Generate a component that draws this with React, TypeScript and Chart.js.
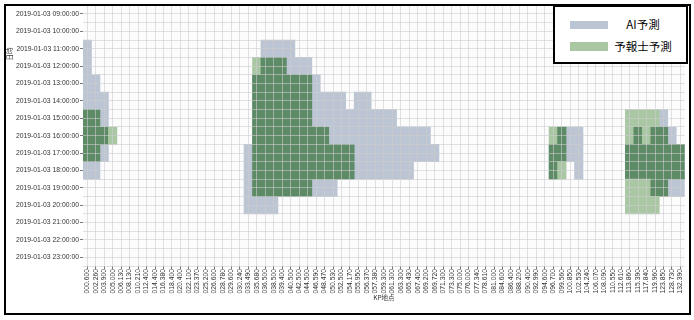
import React, { useEffect, useRef } from "react";
import { Chart, registerables } from "chart.js";

Chart.register(...registerables);

const kpLabels = [
  "000.600","002.260","003.900","005.000","006.130","008.130","010.210","012.400","014.400","016.380",
  "018.400","020.400","022.100","023.370","025.200","026.600","028.780","029.600","030.240","033.490",
  "035.680","036.500","038.500","039.400","040.500","042.500","044.500","046.590","048.470","050.530",
  "052.500","054.170","055.950","056.370","057.380","059.300","061.300","063.300","065.430","067.400",
  "069.200","069.720","071.300","073.300","075.000","076.000","077.340","078.610","081.000","084.600",
  "086.400","088.200","090.400","092.990","094.600","096.700","099.560","100.850","102.530","104.240",
  "106.070","108.090","110.550","112.610","113.860","115.390","117.840","119.960","123.850","128.730","132.390",
];

const timeLabels = [
  "2019-01-03 09:00:00","2019-01-03 10:00:00","2019-01-03 11:00:00","2019-01-03 12:00:00",
  "2019-01-03 13:00:00","2019-01-03 14:00:00","2019-01-03 15:00:00","2019-01-03 16:00:00",
  "2019-01-03 17:00:00","2019-01-03 18:00:00","2019-01-03 19:00:00","2019-01-03 20:00:00",
  "2019-01-03 21:00:00","2019-01-03 22:00:00","2019-01-03 23:00:00",
];

// [time index, first KP index, last KP index]
const aiRanges: [number, number, number][] = [
  [2,0,0],[3,0,0],[4,0,1],[5,0,2],[6,0,2],[7,0,2],[8,0,2],[9,0,1],
  [2,21,24],[3,21,26],[4,20,27],[5,20,30],[5,32,33],[6,20,36],[7,20,40],[8,19,41],[9,19,38],[10,19,29],[11,19,22],
  [7,56,58],[8,55,58],[9,55,55],[9,58,58],
  [6,68,68],[7,65,65],[7,67,69],[8,64,70],[9,64,70],[10,67,70],
];

const forecasterRanges: [number, number, number][] = [
  [6,0,1],[7,0,3],[8,0,1],
  [3,20,23],[4,20,26],[5,20,26],[6,20,26],[7,20,28],[8,20,31],[9,20,31],[10,20,26],
  [7,55,56],[8,55,56],[9,55,56],
  [6,64,67],[7,64,68],[8,64,70],[9,64,70],[10,64,68],[11,64,67],
];

const seriesNames = ["AI予測", "予報士予測"];
const grayColor = "#bcc5d3";
const lightGreen = "#a9c7a2";
const darkGreen = "#5d8b65";

function expand(ranges: [number, number, number][]) {
  const out: { x: string; y: [number, number]; t: number; k: number }[] = [];
  ranges.forEach(([t, a, b]) => {
    for (let k = a; k <= b; k++) out.push({ x: kpLabels[k], y: [t - 0.5, t + 0.5], t, k });
  });
  return out;
}

export default function App() {
  const ref = useRef<HTMLCanvasElement | null>(null);
  useEffect(() => {
    if (!ref.current) return;
    const aiData = expand(aiRanges);
    const fcData = expand(forecasterRanges);
    const aiSet = new Set(aiData.map((d) => `${d.t}-${d.k}`));
    const yTickValues: number[] = [];
    for (let v = -0.5; v <= timeLabels.length - 0.5 + 1e-9; v += 0.5) yTickValues.push(v);

    const bgPlugin = {
      id: "bgAndTitle",
      beforeDraw(chart: any) {
        const { ctx, chartArea } = chart;
        ctx.save();
        ctx.fillStyle = "#fcfcfc";
        ctx.fillRect(chartArea.left, chartArea.top, chartArea.right - chartArea.left, chartArea.bottom - chartArea.top);
        ctx.restore();
      },
      afterDraw(chart: any) {
        const { ctx } = chart;
        ctx.save();
        ctx.translate(10, 54);
        ctx.rotate(-Math.PI / 2);
        ctx.fillStyle = "#333";
        ctx.font = "6.5px 'Noto Sans CJK JP'";
        ctx.textAlign = "center";
        ctx.textBaseline = "middle";
        ctx.fillText("日時", 0, 0);
        ctx.restore();
      },
    };

    const gridColor = "rgba(205,203,207,0.6)";
    const chart = new Chart(ref.current, {
      type: "bar",
      data: {
        labels: kpLabels,
        datasets: [
          {
            label: seriesNames[1],
            data: fcData as any,
            backgroundColor: (c: any) => {
              const r = c.raw;
              if (!r) return lightGreen;
              return aiSet.has(`${r.t}-${r.k}`) ? darkGreen : lightGreen;
            },
            borderWidth: 0,
            grouped: false,
            categoryPercentage: 1,
            barPercentage: 1,
            order: 0,
          } as any,
          {
            label: seriesNames[0],
            data: aiData as any,
            backgroundColor: grayColor,
            borderWidth: 0,
            grouped: false,
            categoryPercentage: 1,
            barPercentage: 1,
            order: 1,
          } as any,
        ],
      },
      options: {
        animation: false,
        responsive: false,
        events: [],
        layout: { padding: { top: 5.3, right: 9.3, left: 0, bottom: 0 } },
        plugins: { legend: { display: false }, tooltip: { enabled: false } },
        font: { family: "'Liberation Sans', 'Noto Sans CJK JP', sans-serif" },
        scales: {
          x: {
            type: "category",
            offset: true,
            afterFit: (s: any) => { s.height = 54; },
            grid: {
              offset: false,
              color: gridColor,
              z: 1,
              tickLength: 3,
              tickColor: "#777",
            },
            border: { display: false },
            ticks: {
              autoSkip: false,
              minRotation: 90,
              maxRotation: 90,
              padding: 0,
              color: "#333",
              font: { size: 6.8, family: "'Liberation Sans', sans-serif" },
            },
            title: {
              display: true,
              text: "KP地点",
              color: "#333",
              font: { size: 6.5, family: "'Noto Sans CJK JP', sans-serif" },
              padding: { top: 0, bottom: 19 },
            },
          },
          y: {
            type: "linear",
            reverse: true,
            min: -0.5,
            max: timeLabels.length - 0.5,
            afterFit: (s: any) => { s.width = 83; },
            afterBuildTicks: (s: any) => { s.ticks = yTickValues.map((v) => ({ value: v })); },
            grid: {
              color: gridColor,
              z: 1,
              tickLength: 3,
              tickColor: (c: any) => (c.tick && Number.isInteger(c.tick.value) ? "#777" : "rgba(0,0,0,0)"),
            },
            border: { display: false },
            ticks: {
              autoSkip: false,
              padding: 1,
              color: "#333",
              font: { size: 6.8, family: "'Liberation Sans', sans-serif" },
              callback: (v: any) => {
                const n = Number(v);
                return Number.isInteger(n) && timeLabels[n] ? timeLabels[n] : "";
              },
            },
          },
        },
      } as any,
      plugins: [bgPlugin],
    });
    return () => chart.destroy();
  }, []);

  return (
    <div style={{ position: "absolute", left: 0, top: 0, width: 694, height: 320, background: "#fff" }}>
      <canvas ref={ref} width={694} height={320} style={{ position: "absolute", left: 0, top: 0, width: 694, height: 320 }} />
      <div
        style={{
          position: "absolute", left: 4, top: 4, width: 687, height: 311,
          border: "2px solid #000", boxSizing: "border-box", pointerEvents: "none",
        }}
      />
      <div
        style={{
          position: "absolute", left: 553, top: 5, width: 135, height: 59,
          border: "2px solid #000", boxSizing: "border-box", background: "#fff",
          fontFamily: "'Noto Sans CJK JP', sans-serif", fontSize: 11.5, color: "#000",
        }}
      >
        <div style={{ position: "absolute", left: 15, top: 14, width: 38, height: 8, background: grayColor }} />
        <div style={{ position: "absolute", left: 57, top: 10, width: 62, lineHeight: "14px", textAlign: "center", whiteSpace: "nowrap" }}>
          {seriesNames[0]}
        </div>
        <div style={{ position: "absolute", left: 15, top: 35, width: 38, height: 9, background: lightGreen }} />
        <div style={{ position: "absolute", left: 57, top: 32, width: 62, lineHeight: "14px", textAlign: "center", whiteSpace: "nowrap" }}>
          {seriesNames[1]}
        </div>
      </div>
    </div>
  );
}
